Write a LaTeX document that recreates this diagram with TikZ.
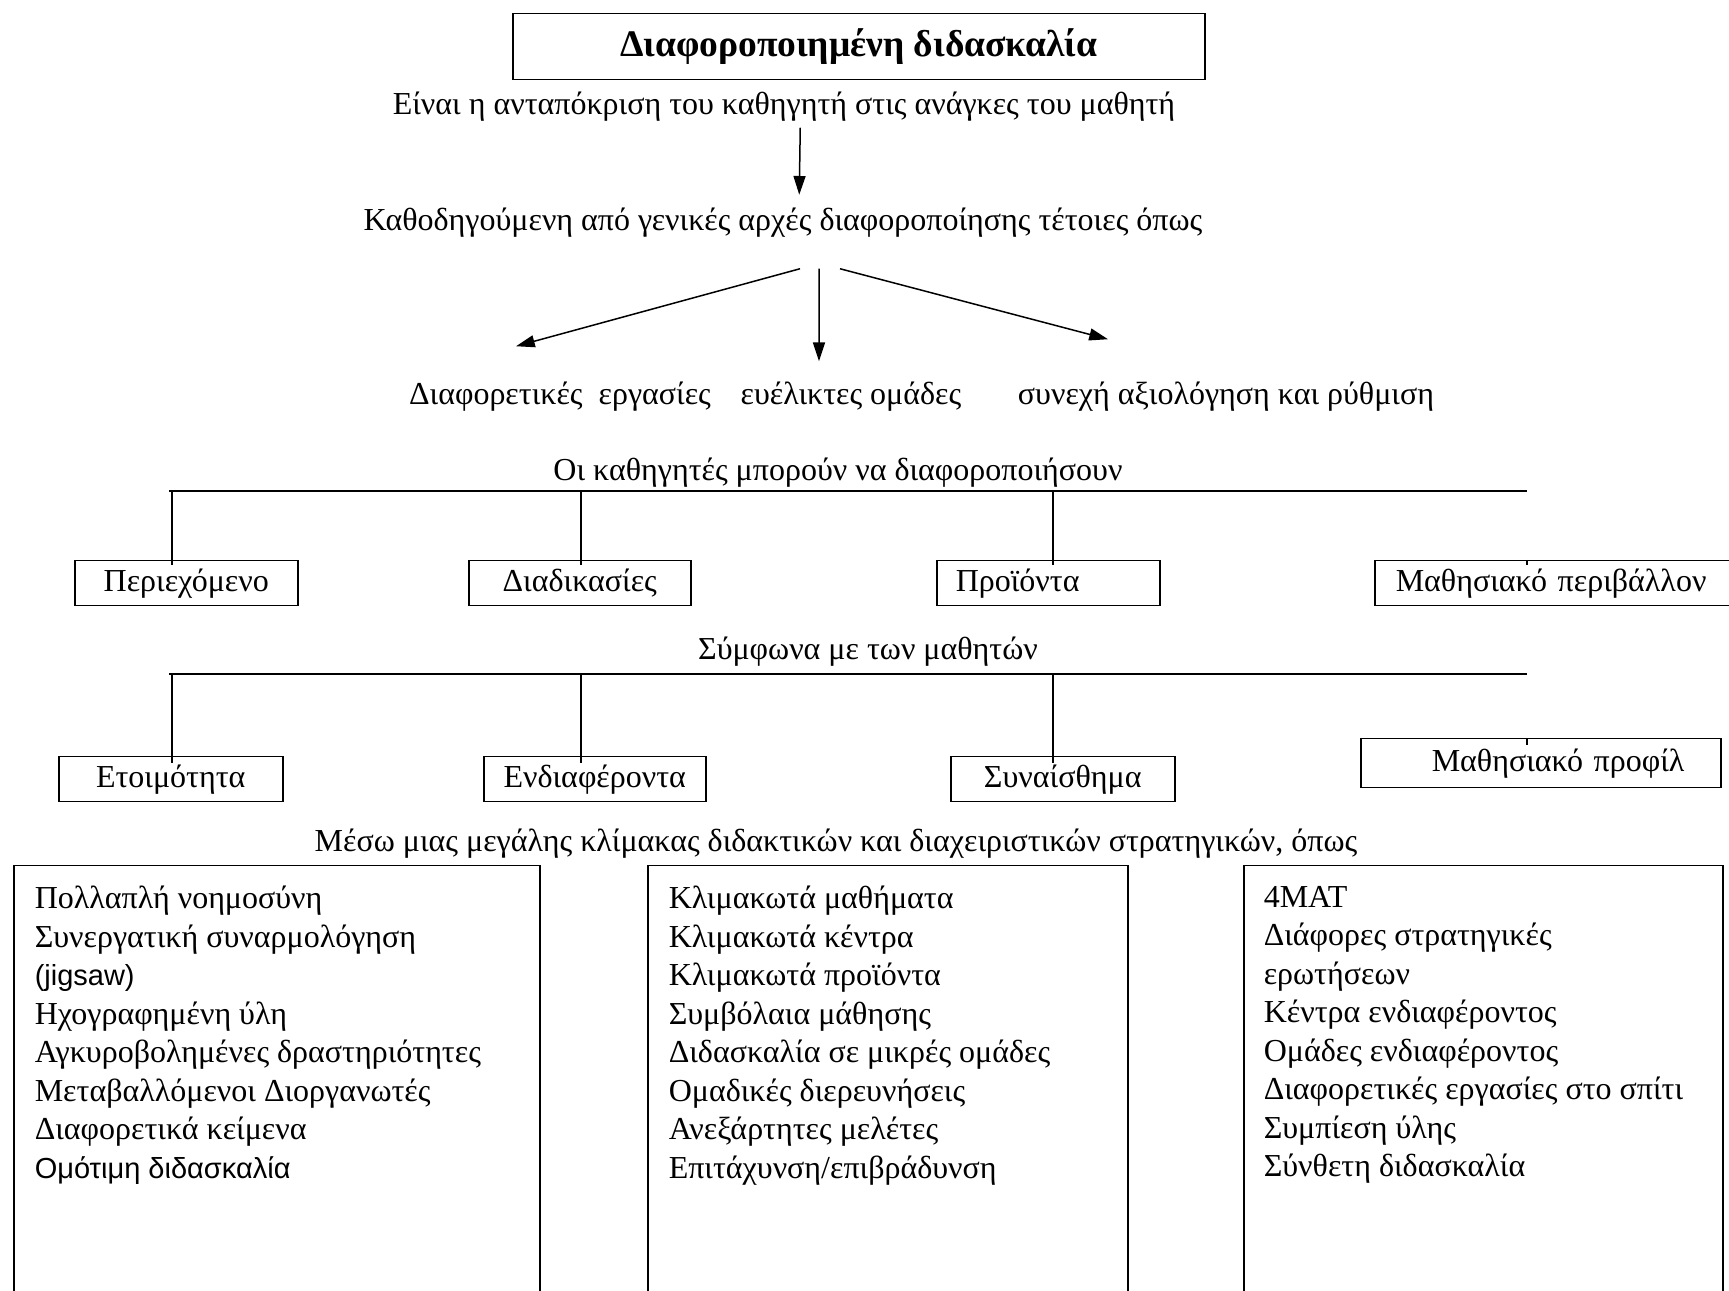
\documentclass[tikz,border=0pt]{standalone}
\usepackage{fontspec}
\setmainfont{Liberation Serif}
\newfontfamily\grsans{Liberation Sans}
\usetikzlibrary{arrows.meta}
\tikzstyle{block} = [rectangle, draw, minimum height=18pt, inner sep=0pt, anchor=north west]
\tikzstyle{phrase} = [inner sep=0pt, text height=9pt, text depth=3pt]
\tikzstyle{listbox} = [rectangle, draw, minimum height=200pt, anchor=north west]
\tikzstyle{listtext} = [inner sep=0pt, anchor=north west, align=left]

\begin{document}
\begin{tikzpicture}[x=0.4pt, y=-0.4pt, line width=0.6pt,
    >={Triangle[length=7.5pt, width=4.8pt]},
    font=\fontsize{12.8}{15.4}\selectfont]
  \useasboundingbox (0,0) rectangle (1729,1291);
  % title and first principles
  \node[block, minimum width=276.8pt, minimum height=26.4pt, font=\fontsize{15}{18}\selectfont\bfseries] (title) at (512,13) {Διαφοροποιημένη διδασκαλία};
  \node[phrase] (intro) at (784,107) {Είναι η ανταπόκριση του καθηγητή στις ανάγκες του μαθητή};
  \node[phrase] (guide) at (783,223) {Καθοδηγούμενη από γενικές αρχές διαφοροποίησης τέτοιες όπως};
  \node[phrase] (tasks) at (560,397) {Διαφορετικές\ \ εργασίες};
  \node[phrase] (groups) at (851,397) {ευέλικτες ομάδες};
  \node[phrase] (assess) at (1226,397) {συνεχή αξιολόγηση και ρύθμιση};
  \draw[->] ([xshift=6.5pt, yshift=-2pt]intro.south) -- ([xshift=6.5pt, yshift=5pt]guide.north);
  \draw[->] ([xshift=6.8pt, yshift=-12pt]guide.south) -- ([xshift=-17.6pt, yshift=14pt]tasks.north);
  \draw[->] ([xshift=14.4pt, yshift=-12pt]guide.south) -- ([xshift=-12.8pt, yshift=8pt]groups.north);
  \draw[->] ([xshift=22.8pt, yshift=-12pt]guide.south) -- ([xshift=-47.2pt, yshift=16.8pt]assess.north);

  % what teachers can differentiate
  \node[phrase] (teach) at (838,473) {Οι καθηγητές μπορούν να διαφοροποιήσουν};
  \coordinate (barA) at (169,491);
  \coordinate (barB) at (1527,491);
  \node[block, minimum width=89.2pt] (cont) at (74,560) {Περιεχόμενο};
  \node[block, minimum width=88.8pt] (proc) at (468,560) {Διαδικασίες};
  \node[block, text width=89.2pt, align=left] (prod) at (936,560) {\hspace*{7.6pt}Προϊόντα};
  \node[block, text width=150pt, align=left] (env) at (1374,560) {\hspace*{8.4pt}Μαθησιακό περιβάλλον};
  \draw (barA) -- (barB);
  \draw ([xshift=-5.8pt]cont.north |- barA) -- ([xshift=-5.8pt, yshift=-2pt]cont.north);
  \draw ([xshift=0.4pt]proc.north |- barA) -- ([xshift=0.4pt, yshift=-2pt]proc.north);
  \draw ([xshift=1.8pt]prod.north |- barA) -- ([xshift=1.8pt, yshift=-2pt]prod.north);
  \draw (env.north west -| barB) -- ([yshift=-2pt]env.north west -| barB);

  % according to the students
  \node[phrase] (stud) at (868,652) {Σύμφωνα με των μαθητών};
  \coordinate (barC) at (169,674);
  \coordinate (barD) at (1527,674);
  \node[block, minimum width=89.6pt] (ready) at (58,756) {Ετοιμότητα};
  \node[block, minimum width=88.8pt] (inter) at (483,756) {Ενδιαφέροντα};
  \node[block, minimum width=89.6pt] (feel) at (950,756) {Συναίσθημα};
  \node[block, minimum height=19.6pt, text width=144pt, align=left] (prof) at (1360,738) {\hspace*{28.4pt}Μαθησιακό προφίλ};
  \draw (barC) -- (barD);
  \draw ([xshift=0.4pt]ready.north |- barC) -- ([xshift=0.4pt, yshift=-3pt]ready.north);
  \draw ([xshift=-5.6pt]inter.north |- barC) -- ([xshift=-5.6pt, yshift=-3pt]inter.north);
  \draw ([xshift=-4pt]feel.north |- barC) -- ([xshift=-4pt, yshift=-3pt]feel.north);
  \draw (prof.north west -| barD) -- ([yshift=-3pt]prof.north west -| barD);

  % strategies
  \node[phrase] (strat) at (836,844) {Μέσω μιας μεγάλης κλίμακας διδακτικών και διαχειριστικών στρατηγικών, όπως};
  \node[listbox, minimum width=210.4pt] (multi) at (13,865) {};
  \node[listbox, minimum width=192pt] (tiered) at (647,865) {};
  \node[listbox, minimum width=191.6pt] (other) at (1243,865) {};
  \node[listtext] (multilist) at ([xshift=8.4pt, yshift=-8.2pt]multi.north west) {Πολλαπλή νοημοσύνη\\
    Συνεργατική συναρμολόγηση\\
    {\grsans\fontsize{11.6}{15.4}\selectfont (jigsaw)}\\
    Ηχογραφημένη ύλη\\
    Αγκυροβολημένες δραστηριότητες\\
    Μεταβαλλόμενοι Διοργανωτές\\
    Διαφορετικά κείμενα\\
    {\grsans\fontsize{11.6}{15.4}\selectfont Ομότιμη διδασκαλία}};
  \node[listtext] (tieredlist) at ([xshift=8.4pt, yshift=-8.2pt]tiered.north west) {Κλιμακωτά μαθήματα\\
    Κλιμακωτά κέντρα\\
    Κλιμακωτά προϊόντα\\
    Συμβόλαια μάθησης\\
    Διδασκαλία σε μικρές ομάδες\\
    Ομαδικές διερευνήσεις\\
    Ανεξάρτητες μελέτες\\
    Επιτάχυνση/επιβράδυνση};
  \node[listtext] (otherlist) at ([xshift=8pt, yshift=-8.2pt]other.north west) {4MAT\\
    Διάφορες στρατηγικές\\
    ερωτήσεων\\
    Κέντρα ενδιαφέροντος\\
    Ομάδες ενδιαφέροντος\\
    Διαφορετικές εργασίες στο σπίτι\\
    Συμπίεση ύλης\\
    Σύνθετη διδασκαλία};
\end{tikzpicture}
\end{document}
